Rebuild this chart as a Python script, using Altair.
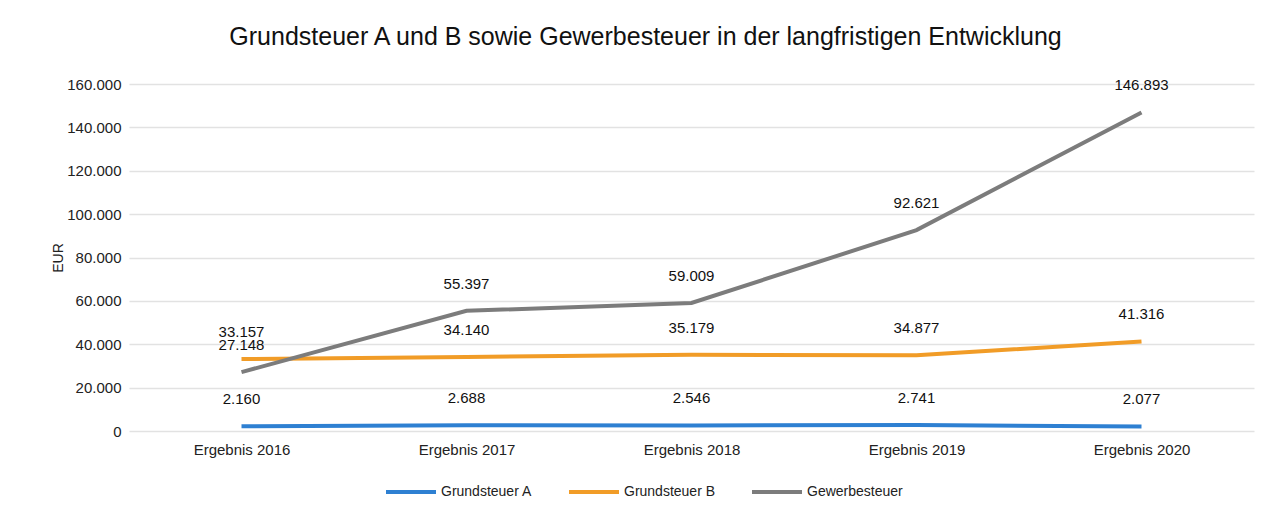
import altair as alt
import pandas as pd

categories = ["Ergebnis 2016", "Ergebnis 2017", "Ergebnis 2018", "Ergebnis 2019", "Ergebnis 2020"]
series_names = ["Grundsteuer A", "Grundsteuer B", "Gewerbesteuer"]
grundsteuer_a = [2160, 2688, 2546, 2741, 2077]
grundsteuer_b = [33157, 34140, 35179, 34877, 41316]
gewerbesteuer = [27148, 55397, 59009, 92621, 146893]
colors = ["#2e80d2", "#f19c27", "#7c7c7c"]

rows = []
for name, vals in zip(series_names, [grundsteuer_a, grundsteuer_b, gewerbesteuer]):
    for c, v in zip(categories, vals):
        rows.append({"Kategorie": c, "Serie": name, "Wert": v,
                     "Label": f"{v:,}".replace(",", ".")})
df = pd.DataFrame(rows)

FONT = "Liberation Sans"

x = alt.X("Kategorie:N", sort=categories, scale=alt.Scale(type="point", padding=0.5),
          axis=alt.Axis(title=None, labelAngle=0, labelFontSize=15, labelColor="#222",
                        labelPadding=11, domain=False, ticks=False, grid=False))
y = alt.Y("Wert:Q", scale=alt.Scale(domain=[0, 160000]),
          axis=alt.Axis(title="EUR", titleFontSize=14, titleFontWeight="normal", titleColor="#222",
                        titlePadding=1, values=list(range(0, 160001, 20000)),
                        labelExpr="replace(format(datum.value, ','), ',', '.')",
                        labelFontSize=15, labelColor="#222", labelPadding=8,
                        domain=False, ticks=False, gridColor="#e2e2e2", gridWidth=1.5))

color = alt.Color("Serie:N", scale=alt.Scale(domain=series_names, range=colors),
                  legend=alt.Legend(title=None, orient="none", direction="horizontal",
                                    legendX=255, legendY=381,
                                    symbolType="stroke", symbolSize=2500, symbolStrokeWidth=4,
                                    labelFontSize=14, labelColor="#222", columnPadding=28,
                                    labelOffset=3))

lines = alt.Chart(df).mark_line(strokeWidth=4).encode(x=x, y=y, color=color)
labels = alt.Chart(df).mark_text(dy=-27, fontSize=15, color="#111", font=FONT).encode(
    x=alt.X("Kategorie:N", sort=categories), y="Wert:Q", text="Label:N")

chart = (lines + labels).properties(
    width=1125, height=347,
    padding={"left": 43, "top": 17, "right": 5, "bottom": 5},
    title=alt.TitleParams("Grundsteuer A und B sowie Gewerbesteuer in der langfristigen Entwicklung",
                          fontSize=25, fontWeight="normal", color="#111", offset=27, anchor="middle",
                          dx=-46),
).configure(font=FONT).configure_view(stroke=None)

chart.save("out.html", embed_options={"renderer": "svg", "actions": False})
